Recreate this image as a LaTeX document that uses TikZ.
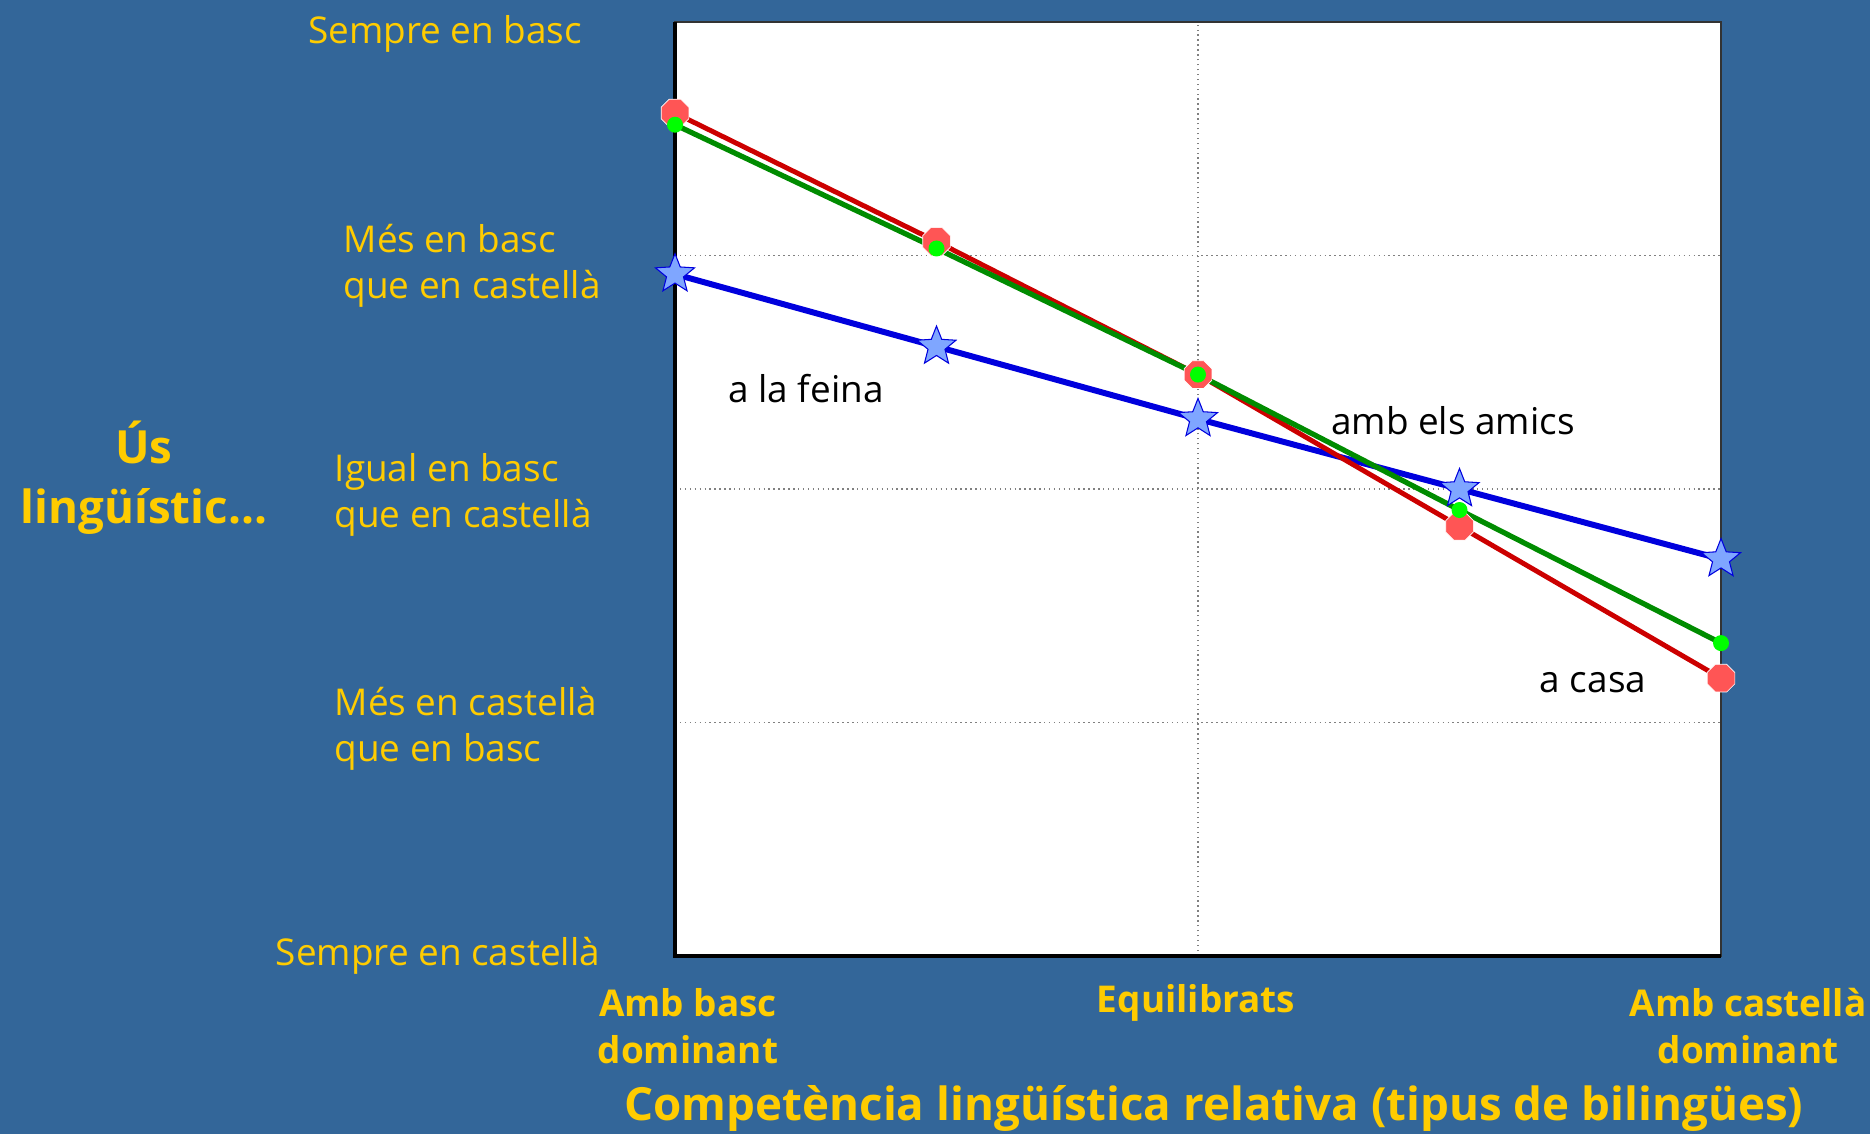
\documentclass[tikz,border=0pt]{standalone}
\usepackage{fontspec}
\setmainfont{Open Sans}
\usetikzlibrary{shapes.geometric,positioning}

\definecolor{slide}{RGB}{51,102,153}
\definecolor{labelyellow}{RGB}{255,204,0}
\definecolor{casared}{RGB}{204,0,0}
\definecolor{casadot}{RGB}{255,85,85}
\definecolor{amicsgreen}{RGB}{0,140,0}
\definecolor{amicsdot}{RGB}{0,255,0}
\definecolor{feinablue}{RGB}{0,0,221}
\definecolor{feinastar}{RGB}{127,166,255}

\begin{document}
\begin{tikzpicture}[x=0.1mm,y=-0.1mm]
      \tikzset{
	  axislbl/.style={text=labelyellow, font=\fontsize{10.5}{13.2}\selectfont, align=left, inner sep=0pt},
	  typelbl/.style={text=labelyellow, font=\bfseries\fontsize{10.5}{13.2}\selectfont, align=center, inner sep=0pt},
	  biglbl/.style={text=labelyellow, font=\bfseries\fontsize{13}{17}\selectfont, align=center, inner sep=0pt},
	  serieslbl/.style={text=black, font=\fontsize{10.5}{13}\selectfont, inner sep=0pt},
	  gridline/.style={gray, densely dotted, line width=0.4pt},
	  casaline/.style={casared, line width=1.4pt},
	  amicsline/.style={amicsgreen, line width=1.5pt},
	  feinaline/.style={feinablue, line width=1.7pt},
	  casamark/.style={regular polygon, regular polygon sides=8, fill=casadot, draw=white, line width=0.2pt, inner sep=0pt, minimum size=3mm},
	  amicsmark/.style={circle, fill=amicsdot, inner sep=0pt, minimum size=1.6mm},
	  feinamark/.style={star, star points=5, star point ratio=2.3, fill=feinastar, draw=feinablue, line width=0.3pt, inner sep=0pt, minimum size=4.1mm}
      }

      %-----background and plot area
      \fill[slide] (0,0) rectangle (1870,1134);
      \useasboundingbox (0,0) rectangle (1870,1134);
      \fill[white] (675,22) rectangle (1721,956);

      \begin{scope}[shift={(6.75cm,-9.56cm)}, x=2.615cm, y=2.335cm]
	\draw[gridline] (0,1) -- (4,1);
	\draw[gridline] (0,2) -- (4,2);
	\draw[gridline] (0,3) -- (4,3);
	\draw[gridline] (2,0) -- (2,4);
	\draw[black!80, line width=0.5pt] (0,0) rectangle (4,4);
	\draw[black, line width=1pt] (0,4) -- (0,0) -- (4,0);

	%-----a la feina
	\coordinate (f0) at (0,2.92);
	\coordinate (f1) at (1,2.61);
	\coordinate (f2) at (2,2.30);
	\coordinate (f3) at (3,2.00);
	\coordinate (f4) at (4,1.70);
	%-----a casa
	\coordinate (c0) at (0,3.61);
	\coordinate (c1) at (1,3.06);
	\coordinate (c2) at (2,2.49);
	\coordinate (c3) at (3,1.84);
	\coordinate (c4) at (4,1.19);
	%-----amb els amics
	\coordinate (a0) at (0,3.56);
	\coordinate (a1) at (1,3.03);
	\coordinate (a2) at (2,2.49);
	\coordinate (a3) at (3,1.91);
	\coordinate (a4) at (4,1.34);

	\draw[feinaline] (f0) -- (f1) -- (f2) -- (f3) -- (f4);
	\draw[casaline] (c0) -- (c1) -- (c2) -- (c3) -- (c4);
	\draw[amicsline] (a0) -- (a1) -- (a2) -- (a3) -- (a4);

	\node[feinamark] (fm0) at (f0) {};
	\node[feinamark] (fm1) at (f1) {};
	\node[feinamark] (fm2) at (f2) {};
	\node[feinamark] (fm3) at (f3) {};
	\node[feinamark] (fm4) at (f4) {};
	\node[casamark] (cm0) at (c0) {};
	\node[casamark] (cm1) at (c1) {};
	\node[casamark] (cm2) at (c2) {};
	\node[casamark] (cm3) at (c3) {};
	\node[casamark] (cm4) at (c4) {};
	\node[amicsmark] (am0) at (a0) {};
	\node[amicsmark] (am1) at (a1) {};
	\node[amicsmark] (am2) at (a2) {};
	\node[amicsmark] (am3) at (a3) {};
	\node[amicsmark] (am4) at (a4) {};
      \end{scope}

      %-----series labels
      \node[serieslbl] (feina) at (806,389) {a la feina};
      \node[serieslbl] (amics) at (1453,421) {amb els amics};
      \node[serieslbl] (casa) at (1593,683) {a casa};

      %-----use levels
      \node[axislbl] (sbasc) at (445,34) {Sempre en basc};
      \node[axislbl, anchor=west] (mbasc) at (343,266) {Més en basc\\que en castellà};
      \node[axislbl, anchor=west] (igual) at (334,495) {Igual en basc\\que en castellà};
      \node[axislbl, anchor=west] (mcast) at (334,729) {Més en castellà\\que en basc};
      \node[axislbl] (scast) at (438,956) {Sempre en castellà};
      \node[biglbl] (us) at (144,478) {Ús\\lingüístic...};

      %-----bilingual types
      \node[typelbl] (bdom) at (688,1026) {Amb basc\\dominant};
      \node[typelbl] (equi) at (1196,1003) {Equilibrats};
      \node[typelbl] (cdom) at (1748,1026) {Amb castellà\\dominant};
      \node[biglbl] (comp) at (1214,1108) {Competència lingüística relativa (tipus de bilingües)};
\end{tikzpicture}
\end{document}
